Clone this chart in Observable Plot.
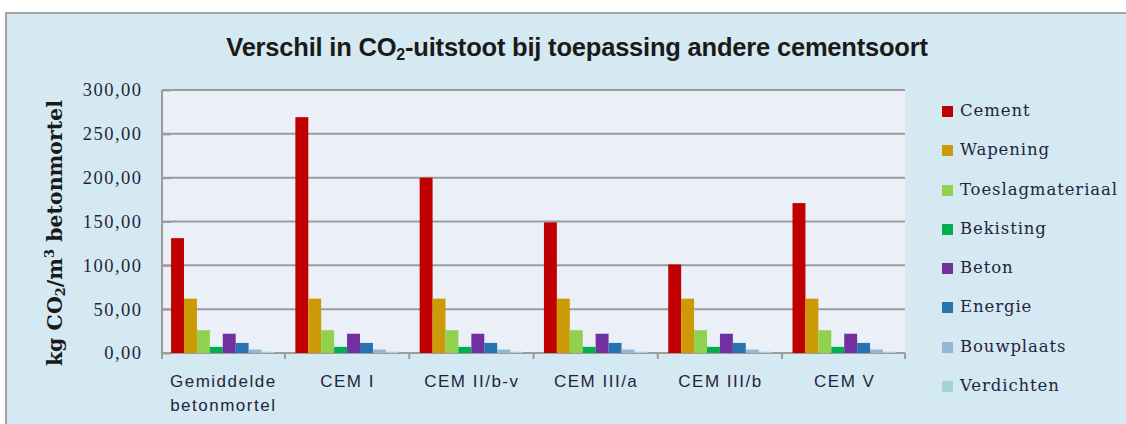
<!DOCTYPE html>
<html>
<head>
<meta charset="utf-8">
<script src="https://cdn.jsdelivr.net/npm/d3@7"></script>
<script src="https://cdn.jsdelivr.net/npm/@observablehq/plot@0.6"></script>
<style>
  html, body { margin: 0; padding: 0; width: 1126px; height: 424px; overflow: hidden; background: #ffffff; }
  #frame { position: absolute; left: 5px; top: 12px; width: 1140px; height: 430px; box-sizing: border-box;
           border: 2px solid #a3a3a3; background: #d5e9f2; }
  #title { position: absolute; left: 577px; top: 35px; transform: translateX(-50%); white-space: nowrap;
           font-family: "Liberation Sans", Arial, sans-serif; font-weight: bold;
           font-size: 25.5px; line-height: 1; color: #1a1a1a; letter-spacing: -0.2px; }
  #title sub { font-size: 16px; vertical-align: -4px; line-height: 0; }
  #ylabel { position: absolute; left: 55px; top: 233px; transform: translate(-50%, -50%) rotate(-90deg);
            white-space: nowrap; font-family: "DejaVu Serif", serif; font-weight: bold; font-size: 20.5px; color: #1a1a1a; }
  #ylabel sub { font-size: 13px; vertical-align: -3px; line-height: 0; }
  #ylabel sup { font-size: 13px; vertical-align: 8px; line-height: 0; }
  #chart { position: absolute; left: 0; top: 80px; }
  #legend { position: absolute; left: 942px; top: 101px; font-family: "DejaVu Serif", serif; font-size: 16.5px;
            letter-spacing: 0.9px; color: #1f2540; }
  .row { height: 39.3px; display: flex; align-items: flex-start; }
  .sw { width: 11px; height: 11px; margin-right: 7px; margin-top: 5px; }
</style>
</head>
<body>
<div id="frame"></div>
<div id="title">Verschil in CO<sub>2</sub>-uitstoot bij toepassing andere cementsoort</div>
<div id="ylabel">kg CO<sub>2</sub>/m<sup>3</sup> betonmortel</div>
<div id="chart"></div>
<div id="legend"></div>
<script>
const categories = ["Gemiddelde betonmortel", "CEM I", "CEM II/b-v", "CEM III/a", "CEM III/b", "CEM V"];
const series = ["Cement", "Wapening", "Toeslagmateriaal", "Bekisting", "Beton", "Energie", "Bouwplaats", "Verdichten"];
const cement           = [131, 269, 200, 149, 101, 171];
const wapening         = [62, 62, 62, 62, 62, 62];
const toeslagmateriaal = [26, 26, 26, 26, 26, 26];
const bekisting        = [7, 7, 7, 7, 7, 7];
const beton            = [22, 22, 22, 22, 22, 22];
const energie          = [11.5, 11.5, 11.5, 11.5, 11.5, 11.5];
const bouwplaats       = [4, 4, 4, 4, 4, 4];
const verdichten       = [1.5, 1.5, 1.5, 1.5, 1.5, 1.5];
const seriesValues = [cement, wapening, toeslagmateriaal, bekisting, beton, energie, bouwplaats, verdichten];
const colors = ["#c00000", "#cc9a06", "#92d050", "#00b050", "#7030a0", "#2872b0", "#93b7d4", "#a3d3d8"];
const yTicks = [0, 50, 100, 150, 200, 250, 300];

const data = categories.flatMap((c, i) => series.map((s, j) => ({category: c, series: s, value: seriesValues[j][i]})));
const fmt = d => d3.format(".2f")(d).replace(".", ",");

const plot = Plot.plot({
  width: 920, height: 344,
  marginLeft: 162, marginRight: 15, marginTop: 10, marginBottom: 71,
  style: {background: "transparent", color: "#1f2540", overflow: "visible"},
  fx: {domain: categories, paddingInner: 0.168, paddingOuter: 0.073, round: false, label: null},
  x: {domain: series, padding: 0, round: false, axis: null},
  y: {domain: [0, 300], label: null},
  color: {domain: series, range: colors},
  marks: [
    Plot.axisY({ticks: yTicks, tickSize: 8, tickFormat: () => "", stroke: "#9c9c9c", strokeWidth: 2, label: null}),
    Plot.axisY({ticks: yTicks, tickSize: 0, tickFormat: fmt, dx: -20, fill: "#1f2540",
                fontSize: 18.5, fontFamily: "Liberation Serif", label: null}),
    Plot.barY(data, {fx: "category", x: "series", y: "value", fill: "series", inset: 0}),
    Plot.axisFx({anchor: "bottom", tickSize: 0, tickPadding: 17, fontSize: 17, lineHeight: 1.4,
                 fontFamily: "Liberation Sans", lineAnchor: "top",
                 tickFormat: d => d === "Gemiddelde betonmortel" ? "Gemiddelde\nbetonmortel" : d, label: null})
  ]
});
document.getElementById("chart").append(plot);

// plot-area background, full-width grid, axis line and category boundary ticks, placed with the plot's own scales
const fx = plot.scale("fx"), y = plot.scale("y");
const svg = d3.select(plot);
svg.selectAll("text").style("letter-spacing", "1.5px");
const y0 = y.apply(0), yTop = y.apply(300);
const xL = fx.range[0], xR = fx.range[1];
const bw = fx.bandwidth;
const bounds = [xL];
for (let i = 1; i < categories.length; i++) bounds.push((fx.apply(categories[i - 1]) + bw + fx.apply(categories[i])) / 2);
bounds.push(xR);

const back = svg.insert("g", ":first-child");
back.append("rect").attr("x", xL).attr("y", yTop).attr("width", xR - xL).attr("height", y0 - yTop).attr("fill", "#ebf0f8");
back.selectAll(".grid").data(yTicks).join("line")
  .attr("x1", xL).attr("x2", xR).attr("y1", d => y.apply(d)).attr("y2", d => y.apply(d))
  .attr("stroke", "#9c9c9c").attr("stroke-width", 2);
const g = svg.append("g").attr("stroke", "#9c9c9c").attr("stroke-width", 2);
g.append("line").attr("x1", xL).attr("x2", xL).attr("y1", yTop).attr("y2", y0 + 6);
g.selectAll(".bt").data(bounds).join("line").attr("x1", d => d).attr("x2", d => d).attr("y1", y0).attr("y2", y0 + 6);

// legend
const legend = d3.select("#legend");
series.forEach((s, i) => {
  const row = legend.append("div").attr("class", "row");
  row.append("div").attr("class", "sw").style("background", colors[i]);
  row.append("span").text(s);
});
</script>
</body>
</html>
